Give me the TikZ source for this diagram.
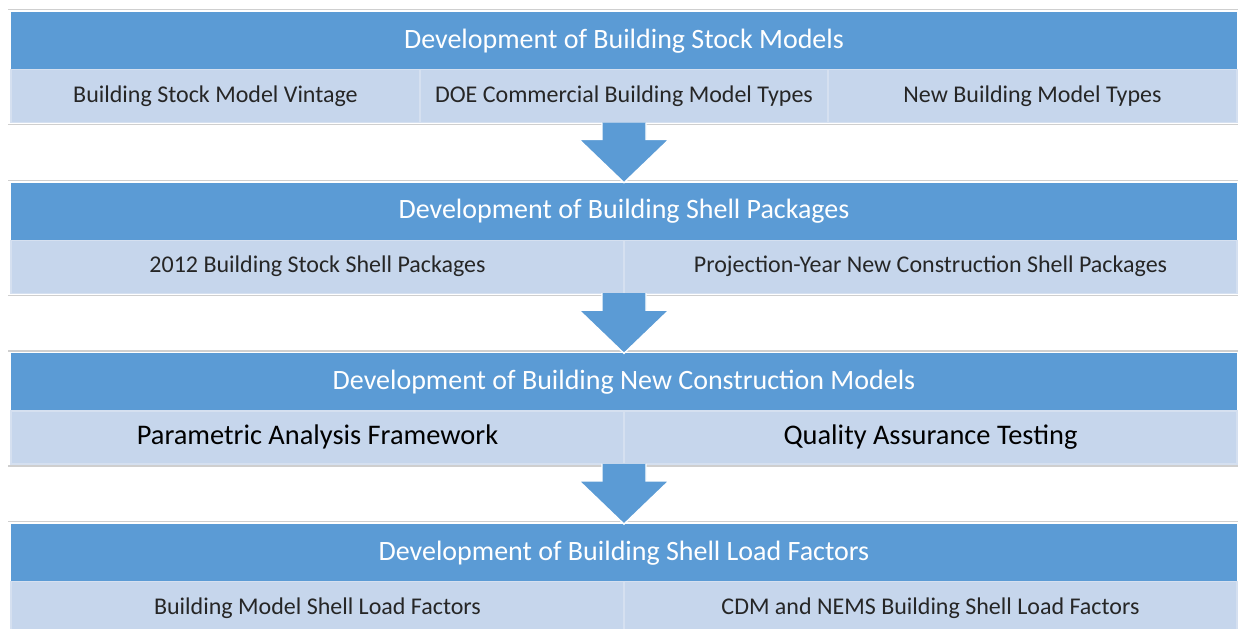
\documentclass[tikz,border=0pt]{standalone}
\usepackage{fontspec}
\setmainfont{Carlito}
\usepackage{tikz}
\usetikzlibrary{positioning}
\definecolor{hdrblue}{HTML}{5B9BD5}
\definecolor{cellblue}{HTML}{C6D6EC}
\definecolor{celledge}{HTML}{D5E0F0}
\definecolor{rulegray}{HTML}{CFCFCF}

\begin{document}
\begin{tikzpicture}[
  header/.style={fill=hdrblue, minimum width=613pt, minimum height=28.75pt, inner sep=0pt,
                 outer sep=0pt, text=white, font=\fontsize{14}{16}\selectfont},
  cell/.style={fill=cellblue, draw=celledge, line width=0.6pt, minimum height=26.5pt,
               inner sep=0pt, outer sep=0pt, text=black!85, font=\fontsize{12}{14}\selectfont},
  bigcell/.style={cell, text=black, font=\fontsize{14.2}{16}\selectfont},
  rule/.style={draw=rulegray, line width=0.6pt},
  blockarr/.style={fill=hdrblue, draw=white, line width=0.7pt, line join=miter},
  node distance=30.1pt
]
\useasboundingbox (0,0) rectangle (619pt,-314pt);

% stage 1
\node[header, anchor=north west] (h1) at (5.5pt,-6pt) {Development of Building Stock Models};
\node[cell, minimum width=204.5pt, anchor=north west] (c1-a) at (h1.south west) {Building Stock Model Vintage};
\node[cell, minimum width=204pt, right=0pt of c1-a] (c1-b) {DOE Commercial Building Model Types};
\node[cell, minimum width=204.5pt, right=0pt of c1-b] (c1-c) {New Building Model Types};

% stage 2
\node[header, below=of c1-a.south west, anchor=north west] (h2) {Development of Building Shell Packages};
\node[cell, minimum width=306.5pt, anchor=north west] (c2-a) at (h2.south west) {2012 Building Stock Shell Packages};
\node[cell, minimum width=306.5pt, right=0pt of c2-a] (c2-b) {Projection-Year New Construction Shell Packages};

% stage 3
\node[header, below=of c2-a.south west, anchor=north west] (h3) {Development of Building New Construction Models};
\node[bigcell, minimum width=306.5pt, anchor=north west] (c3-a) at (h3.south west) {Parametric Analysis Framework};
\node[bigcell, minimum width=306.5pt, right=0pt of c3-a] (c3-b) {Quality Assurance Testing};

% stage 4
\node[header, below=of c3-a.south west, anchor=north west] (h4) {Development of Building Shell Load Factors};
\node[cell, minimum width=306.5pt, anchor=north west] (c4-a) at (h4.south west) {Building Model Shell Load Factors};
\node[cell, minimum width=306.5pt, right=0pt of c4-a] (c4-b) {CDM and NEMS Building Shell Load Factors};

% table rules
\foreach \i in {1,...,4}
  \draw[rule] ([xshift=-1.5pt,yshift=1.25pt]h\i.north west) -- ([xshift=1pt,yshift=1.25pt]h\i.north east);
\foreach \i in {1,2,3}
  \draw[rule] (c\i-a.south west) ++(-1.5pt,-1pt) -- ++(615.5pt,0);

% block arrows between stages
\foreach \i/\j in {1/2,2/3,3/4}
  \filldraw[blockarr] (h\i.south |- c\i-a.south) ++(-11pt,0) -- ++(0,-8.5pt) -- ++(-11.5pt,0)
    -- (h\j.north) -- ++(22.5pt,21.6pt) -- ++(-11.5pt,0) -- ++(0,8.5pt);
\end{tikzpicture}
\end{document}
